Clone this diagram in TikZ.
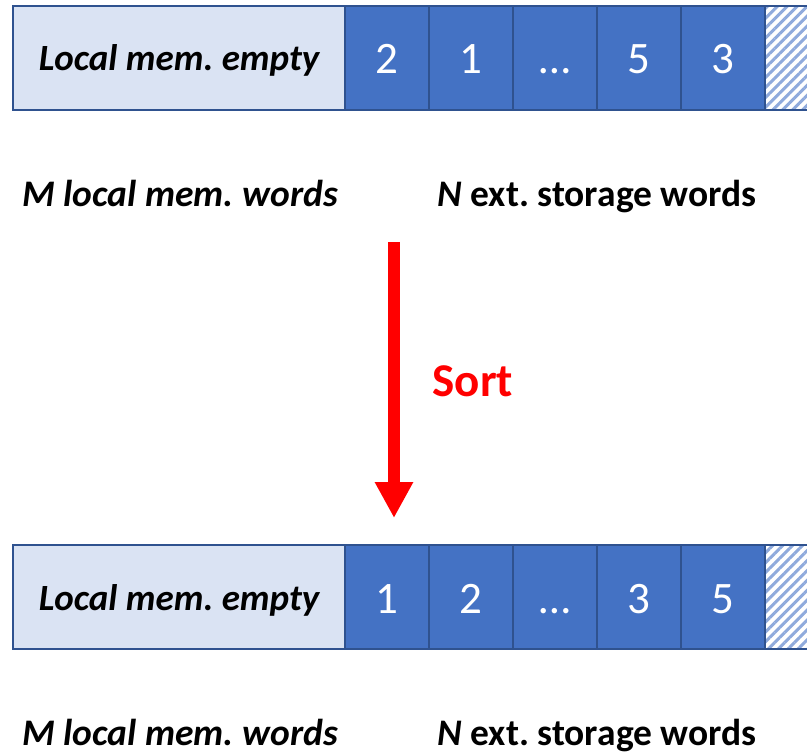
\documentclass[tikz,border=0pt]{standalone}
\usepackage{fontspec}
\setmainfont{Carlito}
\usetikzlibrary{arrows.meta,patterns.meta}
\frenchspacing

\definecolor{cellblue}{HTML}{4472C4}
\definecolor{edgeblue}{HTML}{2F528F}
\definecolor{paleblue}{HTML}{DAE3F3}
\definecolor{hatchblue}{HTML}{8FAADC}
\definecolor{sortred}{HTML}{FF0000}

\tikzset{
  memcell/.style={draw=edgeblue, line width=2.2pt, fill=cellblue, text=white,
    minimum width=84pt, minimum height=104pt, inner sep=0pt,
    font=\fontsize{45}{45}\selectfont, text height=32pt, text depth=0pt},
  localbox/.style={draw=edgeblue, line width=2.2pt, fill=paleblue, text=black,
    minimum width=332pt, minimum height=104pt, inner sep=0pt,
    font=\fontsize{37}{37}\selectfont\bfseries\itshape, text height=26pt, text depth=0pt},
  spare/.style={draw=edgeblue, line width=2.2pt, minimum width=84pt, minimum height=104pt,
    inner sep=0pt,
    pattern={Lines[angle=45, distance=7pt, line width=3pt]}, pattern color=hatchblue},
  caption/.style={anchor=base, inner sep=0pt, font=\fontsize{37.5}{37.5}\selectfont\bfseries},
  sortarrow/.style={draw=sortred, line width=12pt,
    -{Triangle[width=36pt, length=36pt]}},
  sortlabel/.style={anchor=base, inner sep=0pt, text=sortred,
    font=\fontsize{47}{47}\selectfont\bfseries}
}

\begin{document}
\begin{tikzpicture}[x=1pt, y=-1pt]
  \useasboundingbox (0,0) rectangle (807,754);
  \clip (0,0) rectangle (807,754);

  % unsorted array
  \node[localbox] (topLocal) at (179,58) {Local mem. empty};
  \node[memcell] (topA) at (387,58) {2};
  \node[memcell] (topB) at (471,58) {1};
  \node[memcell] (topC) at (555,58) {…};
  \node[memcell] (topD) at (639,58) {5};
  \node[memcell] (topE) at (723,58) {3};
  \node[spare]   (topF) at (807,58) {};

  \node[caption] (topM) at (180,207) {\itshape M local mem. words};
  \node[caption] (topN) at (597,207) {\itshape N\upshape{} ext. storage words};

  % sort step
  \coordinate (sortFrom) at (394,242);
  \coordinate (sortTo) at (394,518);
  \draw[sortarrow] (sortFrom) -- (sortTo);
  \node[sortlabel] (sortText) at (473,397) {Sort};

  % sorted array
  \node[localbox] (botLocal) at (179,597) {Local mem. empty};
  \node[memcell] (botA) at (387,597) {1};
  \node[memcell] (botB) at (471,597) {2};
  \node[memcell] (botC) at (555,597) {…};
  \node[memcell] (botD) at (639,597) {3};
  \node[memcell] (botE) at (723,597) {5};
  \node[spare]   (botF) at (807,597) {};

  \node[caption] (botM) at (180,745) {\itshape M local mem. words};
  \node[caption] (botN) at (597,745) {\itshape N\upshape{} ext. storage words};
\end{tikzpicture}
\end{document}
